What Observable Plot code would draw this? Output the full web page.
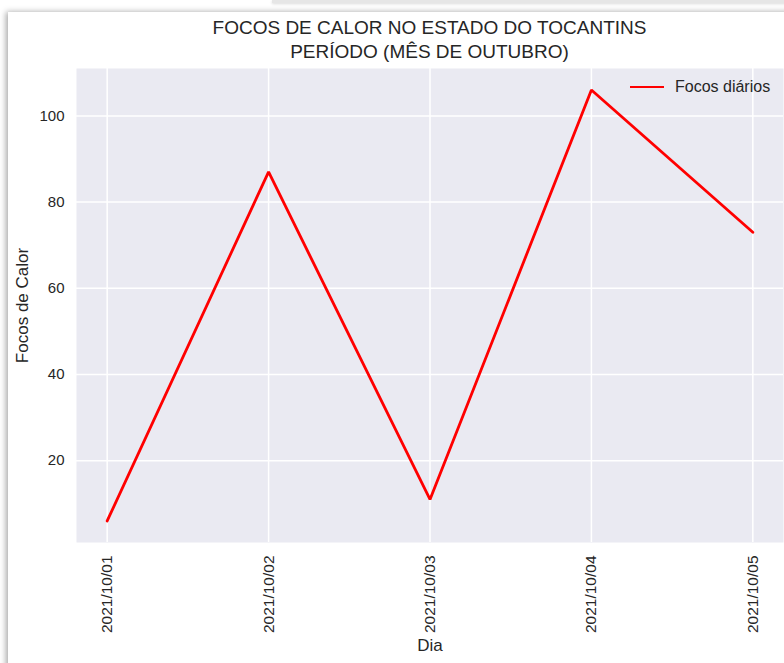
<!DOCTYPE html>
<html>
<head>
<meta charset="utf-8">
<script src="https://cdn.jsdelivr.net/npm/d3@7"></script>
<script src="https://cdn.jsdelivr.net/npm/@observablehq/plot@0.6"></script>
<style>
  html, body { margin: 0; padding: 0; background: #fff; }
  #wrap { position: relative; width: 784px; height: 663px; overflow: hidden; font-family: "Liberation Sans", Arial, sans-serif; color: #262626; }
  #sheet { position: absolute; left: 8px; top: 12px; width: 820px; height: 700px; background: #fff; box-shadow: -2px 0 6px rgba(0,0,0,0.35); }
  #topbar { position: absolute; left: 272px; top: 0; width: 520px; height: 3px; background: #e6e6e6; box-shadow: 0 1px 3px rgba(0,0,0,0.15); }
  #title { position: absolute; left: 76px; width: 707px; top: 16px; text-align: center; font-size: 19px; line-height: 24px; color: #262626; }
  #legend { position: absolute; left: 630px; top: 78px; font-size: 16px; color: #262626; display: flex; align-items: center; }
  #legend .sw { width: 34px; height: 2.8px; background: #ff0000; margin-right: 11px; }
  #chart { position: absolute; left: 0; top: 0; }
</style>
</head>
<body>
<div id="wrap">
  <div id="topbar"></div>
  <div id="sheet"></div>
  <div id="chart"></div>
  <div id="title">FOCOS DE CALOR NO ESTADO DO TOCANTINS<br>PERÍODO (MÊS DE OUTUBRO)</div>
  <div id="legend"><div class="sw"></div><span>Focos diários</span></div>
</div>
<script>
const dias = ["2021/10/01", "2021/10/02", "2021/10/03", "2021/10/04", "2021/10/05"];
const focos = [6, 87, 11, 106, 73];
const yTicks = [20, 40, 60, 80, 100];

const data = dias.map((d, i) => ({dia: d, focos: focos[i]}));

const chart = Plot.plot({
  width: 784,
  height: 663,
  marginTop: 68,
  marginBottom: 121,
  marginLeft: 76,
  marginRight: 1,
  style: {background: "transparent", fontFamily: "'Liberation Sans', Arial, sans-serif", fontSize: "15px", color: "#262626"},
  x: {type: "point", domain: dias, padding: 0.19, round: false, label: null},
  y: {domain: [1, 111], label: null},
  marks: [
    Plot.frame({fill: "#eaeaf2", stroke: null}),
    Plot.gridX(dias, {stroke: "#fff", strokeOpacity: 1, strokeWidth: 1.5}),
    Plot.gridY(yTicks, {stroke: "#fff", strokeOpacity: 1, strokeWidth: 1.5}),
    Plot.axisY(yTicks, {tickSize: 0, tickPadding: 12, fontSize: 15, label: null}),
    Plot.axisX(dias, {tickSize: 0, tickPadding: 13, tickRotate: -90, fontSize: 15.5, label: null}),
    Plot.line(data, {x: "dia", y: "focos", stroke: "#ff0000", strokeWidth: 2.8, strokeLinejoin: "miter", curve: "linear"}),
    Plot.text(["Focos de Calor"], {frameAnchor: "left", textAnchor: "middle", dx: -54, rotate: -90, fontSize: 17, fill: "#262626"}),
    Plot.text(["Dia"], {frameAnchor: "bottom", dy: 108, fontSize: 17, fill: "#262626"})
  ]
});
document.getElementById("chart").appendChild(chart);
</script>
</body>
</html>
